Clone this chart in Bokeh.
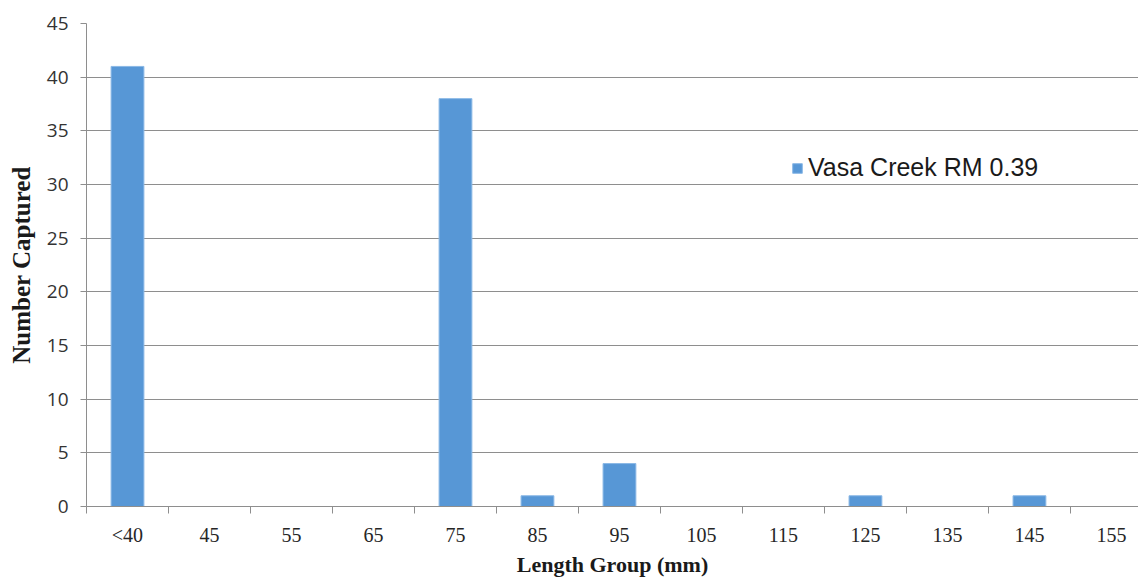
from bokeh.plotting import figure
from bokeh.models import Range1d, FixedTicker, ColumnDataSource, Legend, LegendItem
from bokeh.embed import file_html
from bokeh.resources import INLINE

# Length groups (mm) and fish counts
categories = ["<40", "45", "55", "65", "75", "85", "95", "105", "115", "125", "135", "145", "155"]
counts = [41, 0, 0, 0, 38, 1, 4, 0, 0, 1, 0, 1, 0]
series_name = "Vasa Creek RM 0.39"
y_ticks = [0, 5, 10, 15, 20, 25, 30, 35, 40, 45]

centers = [i + 0.5 for i in range(len(categories))]
bars = [(c, v) for c, v in zip(centers, counts) if v > 0]
src = ColumnDataSource(dict(x=[b[0] for b in bars], top=[b[1] for b in bars]))

p = figure(width=1138, height=579, output_backend="svg", toolbar_location=None,
           x_range=Range1d(0, 12.83), y_range=Range1d(0, 45),
           min_border_left=86, min_border_top=23, min_border_bottom=73, min_border_right=0)
p.outline_line_color = None
p.background_fill_color = "white"
p.border_fill_color = "white"

r = p.vbar(x="x", top="top", bottom=0, width=0.4, source=src,
           fill_color="#5797d6", line_color="#8ab8e6", line_width=1)

grid_color = "#8e8e8e"
p.xgrid.visible = False
p.ygrid.grid_line_color = grid_color
p.ygrid.grid_line_width = 1
p.ygrid.ticker = FixedTicker(ticks=y_ticks)

# x axis: labels at category centres, tick marks at category boundaries
xa = p.xaxis[0]
xa.ticker = FixedTicker(ticks=centers, minor_ticks=list(range(len(categories) + 1)))
xa.major_label_overrides = {c: lab for c, lab in zip(centers, categories)}
xa.major_tick_out = 0
xa.major_tick_in = 0
xa.minor_tick_out = 7
xa.minor_tick_in = 0
xa.minor_tick_line_color = grid_color
xa.axis_line_color = grid_color
xa.major_label_text_font = "Liberation Serif"
xa.major_label_text_font_size = "20px"
xa.major_label_text_color = "#262626"
xa.major_label_standoff = 10
xa.axis_label = "Length Group (mm)"
xa.axis_label_text_font = "Liberation Serif"
xa.axis_label_text_font_style = "bold"
xa.axis_label_text_font_size = "22px"
xa.axis_label_text_color = "#1a1a1a"
xa.axis_label_standoff = 3

ya = p.yaxis[0]
ya.ticker = FixedTicker(ticks=y_ticks)
ya.major_tick_out = 6
ya.major_tick_in = 0
ya.minor_tick_out = 0
ya.minor_tick_in = 0
ya.major_tick_line_color = grid_color
ya.axis_line_color = grid_color
ya.major_label_text_font = "Open Sans"
ya.major_label_text_font_size = "19px"
ya.major_label_text_color = "#333333"
ya.major_label_standoff = 12
ya.axis_label = "Number Captured"
ya.axis_label_text_font = "Liberation Serif"
ya.axis_label_text_font_style = "bold"
ya.axis_label_text_font_size = "25px"
ya.axis_label_text_color = "#1a1a1a"
ya.axis_label_standoff = 9

legend = Legend(items=[LegendItem(label=series_name, renderers=[r])],
                location=(705, 324), border_line_color=None, background_fill_alpha=0,
                label_text_font="Liberation Sans", label_text_font_size="25px",
                label_text_color="#1a1a1a", glyph_width=12, glyph_height=12,
                padding=0, margin=0, label_standoff=5)
p.add_layout(legend)

open("out.html", "w").write(file_html(p, INLINE))
